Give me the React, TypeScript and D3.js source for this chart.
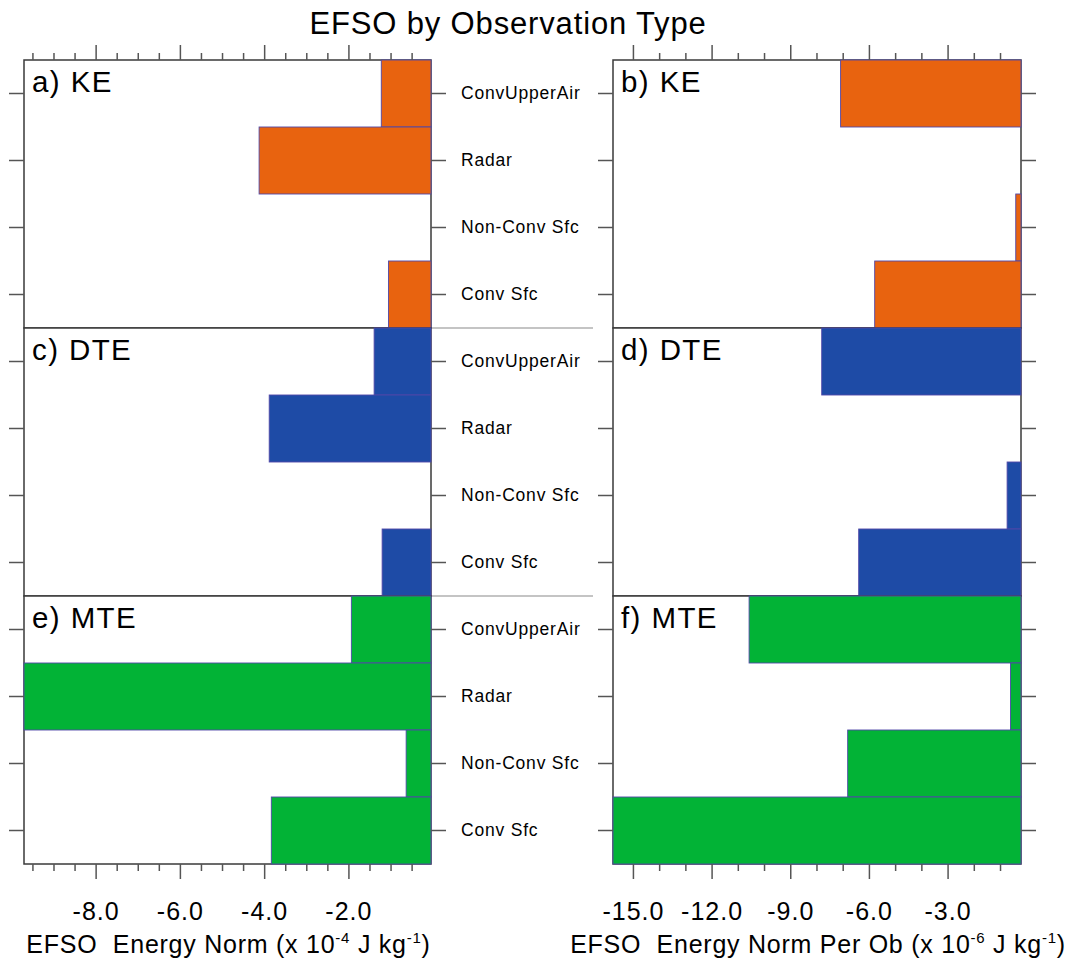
import React, { useEffect, useRef } from "react"
import * as d3 from "d3"

const categories = ["ConvUpperAir", "Radar", "Non-Conv Sfc", "Conv Sfc"]

// total impact (x 10^-4 J/kg)
const keTotal = [-1.22, -4.12, -0.02, -1.05]
const dteTotal = [-1.39, -3.88, -0.02, -1.2]
const mteTotal = [-1.93, -9.7, -0.63, -3.83]

// impact per observation (x 10^-6 J/kg)
const kePerOb = [-7.08, -0.1, -0.4, -5.78]
const dtePerOb = [-7.8, -0.1, -0.73, -6.39]
const mtePerOb = [-10.57, -0.6, -6.81, -15.8]

const totalMajor = [-8, -6, -4, -2]
const totalMinor = [-9.5, -9, -8.5, -7.5, -7, -6.5, -5.5, -5, -4.5, -3.5, -3, -2.5, -1.5, -1, -0.5]
const perObMajor = [-15, -12, -9, -6, -3]
const perObMinor = [-14, -13, -11, -10, -8, -7, -5, -4, -2, -1]

const FONT = "'Liberation Sans', Arial, Helvetica, sans-serif"

export default function App() {
  const ref = useRef<SVGSVGElement>(null)

  useEffect(() => {
    const width = 1069
    const height = 963
    const top = 60
    const rowH = 268
    const cols = [
      { left: 24, right: 431 },
      { left: 613, right: 1021 },
    ]

    const svg = d3.select(ref.current)
    svg.selectAll("*").remove()
    svg.attr("width", width).attr("height", height)

    const xScales = [
      d3.scaleLinear().domain([-9.7, -0.04]).range([cols[0].left, cols[0].right]).clamp(true),
      d3.scaleLinear().domain([-15.76, -0.2]).range([cols[1].left, cols[1].right]).clamp(true),
    ]

    const panels = [
      { label: "a) KE", values: keTotal, col: 0, row: 0, color: "#E8630F" },
      { label: "b) KE", values: kePerOb, col: 1, row: 0, color: "#E8630F" },
      { label: "c) DTE", values: dteTotal, col: 0, row: 1, color: "#1E4BA6" },
      { label: "d) DTE", values: dtePerOb, col: 1, row: 1, color: "#1E4BA6" },
      { label: "e) MTE", values: mteTotal, col: 0, row: 2, color: "#02B336" },
      { label: "f) MTE", values: mtePerOb, col: 1, row: 2, color: "#02B336" },
    ]

    // title
    svg
      .append("text")
      .attr("x", 508)
      .attr("y", 34)
      .attr("text-anchor", "middle")
      .style("font-family", FONT)
      .style("font-size", "31px")
      .style("letter-spacing", "0.85px")
      .text("EFSO by Observation Type")

    // grey separators to the right of the left column
    ;[top + rowH, top + 2 * rowH].forEach(yy => {
      svg
        .append("line")
        .attr("x1", cols[0].right)
        .attr("x2", 593)
        .attr("y1", yy)
        .attr("y2", yy)
        .attr("stroke", "#b0b0b0")
        .attr("stroke-width", 1.5)
    })

    panels.forEach(p => {
      const c = cols[p.col]
      const x = xScales[p.col]
      const y0 = top + p.row * rowH
      const y = d3.scaleBand().domain(categories).range([y0, y0 + rowH]).padding(0)
      const g = svg.append("g")

      // frame
      g.append("rect")
        .attr("x", c.left)
        .attr("y", y0)
        .attr("width", c.right - c.left)
        .attr("height", rowH)
        .attr("fill", "white")
        .attr("stroke", "#3a3a3a")
        .attr("stroke-width", 1.5)

      // bars
      g.selectAll("rect.bar")
        .data(p.values)
        .enter()
        .append("rect")
        .attr("class", "bar")
        .attr("x", d => x(d))
        .attr("y", (d, i) => y(categories[i]))
        .attr("width", d => x(0) - x(d))
        .attr("height", y.bandwidth())
        .attr("fill", p.color)
        .attr("stroke", "#5048a8")
        .attr("stroke-width", 0.9)

      // panel label
      g.append("text")
        .attr("x", c.left + 8)
        .attr("y", y0 + 32)
        .style("font-family", FONT)
        .style("font-size", "29.5px")
        .style("letter-spacing", "1.4px")
        .text(p.label)

      // category ticks
      const leftAxis = d3.axisLeft(y).tickSize(15).tickFormat(() => "")
      const rightAxis = d3
        .axisRight(y)
        .tickSize(15)
        .tickPadding(15)
        .tickFormat(d => (p.col === 0 ? d : ""))

      g.append("g")
        .attr("transform", `translate(${c.left},0)`)
        .call(leftAxis)
        .call(a => a.select(".domain").remove())
      g.append("g")
        .attr("transform", `translate(${c.right},0)`)
        .call(rightAxis)
        .call(a => a.select(".domain").remove())
        .call(a =>
          a
            .selectAll("text")
            .style("font-family", FONT)
            .style("font-size", "17.5px")
            .style("letter-spacing", "0.8px")
            .attr("fill", "#000")
        )

      const major = p.col === 0 ? totalMajor : perObMajor
      const minor = p.col === 0 ? totalMinor : perObMinor

      if (p.row === 0) {
        g.append("g")
          .attr("transform", `translate(0,${y0})`)
          .call(d3.axisTop(x).tickValues(major).tickSize(15).tickFormat(() => ""))
          .call(a => a.select(".domain").remove())
        g.append("g")
          .attr("transform", `translate(0,${y0})`)
          .call(d3.axisTop(x).tickValues(minor).tickSize(7).tickFormat(() => ""))
          .call(a => a.select(".domain").remove())
      }
      if (p.row === 2) {
        const yb = y0 + rowH
        g.append("g")
          .attr("transform", `translate(0,${yb})`)
          .call(d3.axisBottom(x).tickValues(major).tickSize(15).tickFormat(d => (+d).toFixed(1)))
          .call(a => a.select(".domain").remove())
          .call(a =>
            a
              .selectAll("text")
              .attr("y", 56)
              .attr("dy", 0)
              .attr("fill", "#000")
              .style("font-family", FONT)
              .style("font-size", "25px")
              .style("letter-spacing", "1px")
          )
        g.append("g")
          .attr("transform", `translate(0,${yb})`)
          .call(d3.axisBottom(x).tickValues(minor).tickSize(7).tickFormat(() => ""))
          .call(a => a.select(".domain").remove())
      }

      g.selectAll(".tick line").attr("stroke", "#555").attr("stroke-width", 1.5)
    })

    // x axis titles
    const titles = [
      { col: 0, text: "EFSO  Energy Norm (x 10", exp: "-4" },
      { col: 1, text: "EFSO  Energy Norm Per Ob (x 10", exp: "-6" },
    ]
    titles.forEach(t => {
      const c = cols[t.col]
      const txt = svg
        .append("text")
        .attr("x", (c.left + c.right) / 2 + 1)
        .attr("y", 953)
        .attr("text-anchor", "middle")
        .style("font-family", FONT)
        .style("font-size", "25px")
        .style("letter-spacing", "0.75px")
        .style("white-space", "pre")
      txt.append("tspan").text(t.text)
      txt.append("tspan").attr("dy", -10).style("font-size", "15px").text(t.exp)
      txt.append("tspan").attr("dy", 10).text(" J kg")
      txt.append("tspan").attr("dy", -10).style("font-size", "15px").text("-1")
      txt.append("tspan").attr("dy", 10).text(")")
    })
  }, [])

  return (
    <svg
      ref={ref}
      style={{ position: "absolute", left: 0, top: 0, background: "white" }}
    ></svg>
  )
}
